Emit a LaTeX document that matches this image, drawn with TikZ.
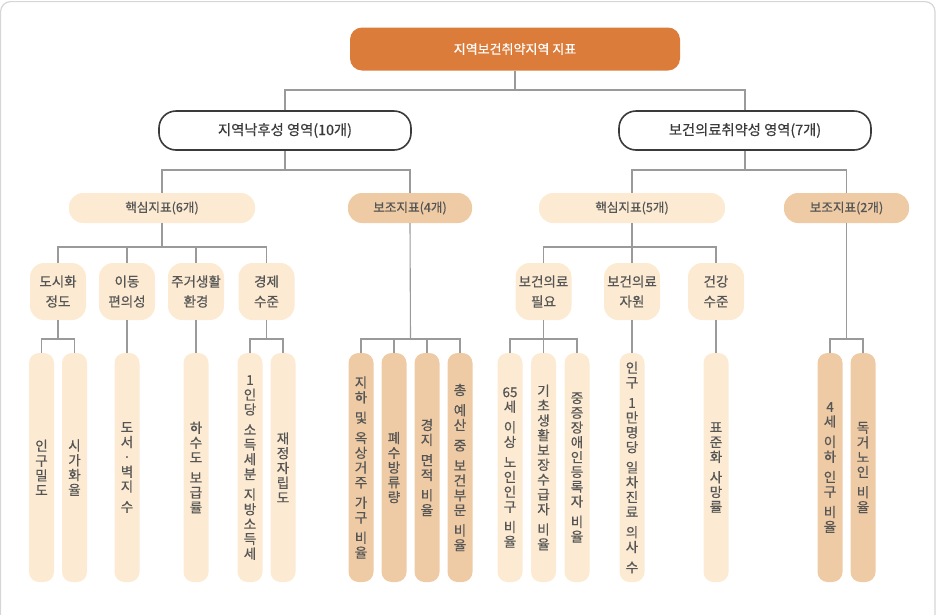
\documentclass[tikz,border=0pt]{standalone}
\usepackage{fontspec}
\setmainfont{Noto Sans CJK KR}[FakeBold=0.5]
\definecolor{rootc}{HTML}{DB7C3A}
\definecolor{lightc}{HTML}{FCEBD2}
\definecolor{tanc}{HTML}{EFCBA5}
\definecolor{linec}{HTML}{9A9A9A}
\definecolor{txtc}{HTML}{555555}
\definecolor{framec}{HTML}{D6D6D6}
\definecolor{darkc}{HTML}{3A3A3A}
\newcommand\vgap{5.5pt}
\tikzset{
  conn/.style={draw=linec, line width=1.1pt},
  rootbox/.style={fill=rootc, text=white, rounded corners=12pt, minimum width=330pt, minimum height=43pt, inner sep=0pt, font=\fontsize{13}{15}\selectfont},
  areabox/.style={draw=darkc, line width=1.6pt, fill=white, text=darkc, rounded corners=17pt, minimum width=252pt, minimum height=39pt, inner sep=0pt, font=\fontsize{14.3}{16}\selectfont},
  catbox/.style={rounded corners=14pt, minimum height=30pt, inner sep=0pt, text=txtc, font=\fontsize{12.6}{14}\selectfont},
  light/.style={fill=lightc},
  tan/.style={fill=tanc},
  grpbox/.style={rounded corners=14pt, minimum width=56pt, minimum height=57pt, inner sep=0pt, align=center, text=txtc, font=\fontsize{13.5}{20}\selectfont},
  tallbox/.style={rounded corners=10pt, minimum width=25pt, minimum height=229pt, inner sep=0pt, align=center, text=txtc, font=\fontsize{13.5}{14.8}\selectfont}
}
\begin{document}
\begin{tikzpicture}[x=1pt,y=-1pt]
\useasboundingbox (0,0) rectangle (940,614);
\draw[framec, line width=1.2pt, rounded corners=10pt] (0.6,1.6) rectangle (935,650);

% level 1 and 2
\node[rootbox] (root) at (515,49) {지역보건취약지역 지표};
\node[areabox] (A) at (285,130.5) {지역낙후성 영역(10개)};
\node[areabox] (B) at (745,130.5) {보건의료취약성 영역(7개)};

% level 3
\node[catbox, light, minimum width=186pt] (A1) at (162,208) {핵심지표(6개)};
\node[catbox, tan, minimum width=124pt] (A2) at (410,208) {보조지표(4개)};
\node[catbox, light, minimum width=186pt] (B1) at (632,208) {핵심지표(5개)};
\node[catbox, tan, minimum width=125pt] (B2) at (846.5,208) {보조지표(2개)};

% level 4
\node[grpbox, light] (g1) at (58,291.5) {도시화\\정도};
\node[grpbox, light] (g2) at (127,291.5) {이동\\편의성};
\node[grpbox, light] (g3) at (196,291.5) {주거생활\\환경};
\node[grpbox, light] (g4) at (266.5,291.5) {경제\\수준};
\node[grpbox, light] (h1) at (543.5,291.5) {보건의료\\필요};
\node[grpbox, light] (h2) at (632,291.5) {보건의료\\자원};
\node[grpbox, light] (h3) at (716,291.5) {건강\\수준};

% tall indicator boxes
\node[tallbox, light] (t1) at (41.5,467.5) {인\\구\\밀\\도};
\node[tallbox, light] (t2) at (74.5,467.5) {시\\가\\화\\율};
\node[tallbox, light] (t3) at (127,467.5) {도\\서\\·\\벽\\지\\[\vgap]수};
\node[tallbox, light] (t4) at (196,467.5) {하\\수\\도\\[\vgap]보\\급\\률};
\node[tallbox, light] (t5) at (250,467.5) {1\\인\\당\\[\vgap]소\\득\\세\\분\\[\vgap]지\\방\\소\\득\\세};
\node[tallbox, light] (t6) at (283,467.5) {재\\정\\자\\립\\도};
\node[tallbox, tan] (t7) at (361,467.5) {지\\하\\[\vgap]및\\[\vgap]옥\\상\\거\\주\\[\vgap]가\\구\\[\vgap]비\\율};
\node[tallbox, tan] (t8) at (394,467.5) {폐\\수\\방\\류\\량};
\node[tallbox, tan] (t9) at (427,467.5) {경\\지\\[\vgap]면\\적\\[\vgap]비\\율};
\node[tallbox, tan] (t10) at (460,467.5) {총\\[\vgap]예\\산\\[\vgap]중\\[\vgap]보\\건\\부\\문\\[\vgap]비\\율};
\node[tallbox, light] (t11) at (510,467.5) {65\\세\\[\vgap]이\\상\\[\vgap]노\\인\\인\\구\\[\vgap]비\\율};
\node[tallbox, light] (t12) at (543.5,467.5) {기\\초\\생\\활\\보\\장\\수\\급\\자\\[\vgap]비\\율};
\node[tallbox, light] (t13) at (577,467.5) {중\\증\\장\\애\\인\\등\\록\\자\\[\vgap]비\\율};
\node[tallbox, light] (t14) at (632,467.5) {인\\구\\[\vgap]1\\만\\명\\당\\[\vgap]일\\차\\진\\료\\[\vgap]의\\사\\[\vgap]수};
\node[tallbox, light] (t15) at (716,467.5) {표\\준\\화\\[\vgap]사\\망\\률};
\node[tallbox, tan] (t16) at (830,467.5) {4\\세\\[\vgap]이\\하\\[\vgap]인\\구\\[\vgap]비\\율};
\node[tallbox, tan] (t17) at (863,467.5) {독\\거\\노\\인\\[\vgap]비\\율};

% bus points
\coordinate (b1) at (515,90);
\coordinate (bA) at (285,170);
\coordinate (bB) at (745,170);
\coordinate (bA1) at (162,247);
\coordinate (bB1) at (632,247);
\coordinate (bg1) at (58,339);
\coordinate (bg4) at (266.5,339);
\coordinate (bA2) at (410.5,339);
\coordinate (bh1) at (543.5,339);
\coordinate (bB2) at (846.5,339);

% connectors
\draw[conn] (root.south) -- (b1);
\draw[conn] (A.north) |- (b1) -| (B.north);
\draw[conn] (A.south) -- (bA);
\draw[conn] (A1.north) |- (bA) -| (A2.north);
\draw[conn] (B.south) -- (bB);
\draw[conn] (B1.north) |- (bB) -| (B2.north);

\draw[conn] (A1.south) -- (bA1);
\draw[conn] (g1.north) |- (bA1) -| (g4.north);
\draw[conn] (g2.north) -- (g2.north |- bA1);
\draw[conn] (g3.north) -- (g3.north |- bA1);

\draw[conn] (B1.south) -- (bB1);
\draw[conn] (h1.north) |- (bB1) -| (h3.north);
\draw[conn] (h2.north) -- (h2.north |- bB1);

\draw[conn] (g1.south) -- (bg1);
\draw[conn] (t1.north) |- (bg1) -| (t2.north);
\draw[conn] (g2.south) -- (t3.north);
\draw[conn] (g3.south) -- (t4.north);
\draw[conn] (g4.south) -- (bg4);
\draw[conn] (t5.north) |- (bg4) -| (t6.north);

\draw[conn] (A2.south) -- (bA2);
\draw[conn] (t7.north) |- (bA2) -| (t10.north);
\draw[conn] (t8.north) -- (t8.north |- bA2);
\draw[conn] (t9.north) -- (t9.north |- bA2);

\draw[conn] (h1.south) -- (bh1);
\draw[conn] (t11.north) |- (bh1) -| (t13.north);
\draw[conn] (t12.north) -- (t12.north |- bh1);
\draw[conn] (h2.south) -- (t14.north);
\draw[conn] (h3.south) -- (t15.north);

\draw[conn] (B2.south) -- (bB2);
\draw[conn] (t16.north) |- (bB2) -| (t17.north);
\end{tikzpicture}
\end{document}
